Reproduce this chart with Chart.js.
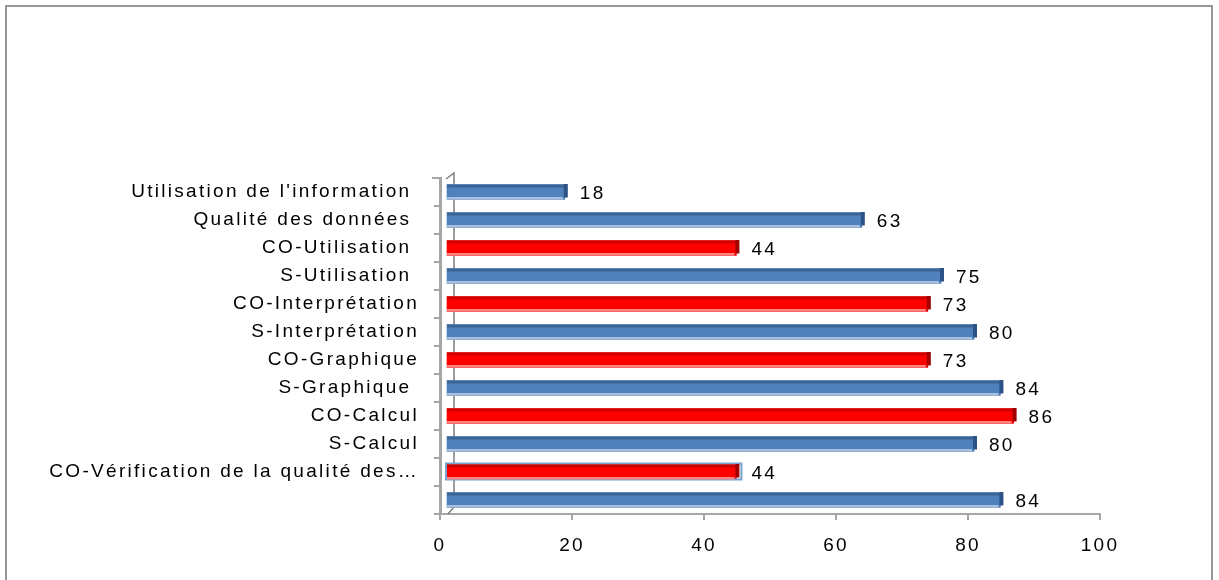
<!DOCTYPE html>
<html><head><meta charset="utf-8">
<style>html,body{margin:0;padding:0;background:#fff;overflow:hidden}#wrap{position:relative;width:1219px;height:580px}canvas{display:block}</style>
<script src="https://cdn.jsdelivr.net/npm/chart.js@4/dist/chart.umd.min.js"></script>
</head><body><div id="wrap"><canvas id="c" width="1219" height="580"></canvas></div>
<script>
// ---- data ----
const categories = ["Utilisation de l'information ", "Qualité des données ", "CO-Utilisation ", "S-Utilisation ", "CO-Interprétation", "S-Interprétation", "CO-Graphique", "S-Graphique ", "CO-Calcul", "S-Calcul", "CO-Vérification de la qualité des…", ""];
const values = [18, 63, 44, 75, 73, 80, 73, 84, 86, 80, 44, 84];
const seriesGroup = ["S", "S", "CO", "S", "CO", "S", "CO", "S", "CO", "S", "CO", "S"];
const xTickValues = [0, 20, 40, 60, 80, 100];

// ---- styles ----
const FONT = "'Liberation Sans', Arial, sans-serif";
const FS = 19;
const LS = '2.3px';
const palette = {
  S:  {main:'#4F81BD', top:'#3B6597', bottom:'#A7C0DF', cap:'#2C5286'},
  CO: {main:'#FF0000', top:'#CC0000', bottom:'#FF8585', cap:'#A00000'}
};
const outlined = 10; // bar drawn with a light-blue 3D outline in the reference
const DX = 6; // 3D depth shift

function setLS(c){ try { c.ctx.letterSpacing = LS; } catch(e){} }

const plugin3d = {
  id: 'threeD',
  beforeUpdate(c){ setLS(c); },
  beforeLayout(c){ setLS(c); },
  beforeDraw(c){
    setLS(c);
    const ctx = c.ctx;
    ctx.save();
    ctx.strokeStyle = '#969696'; ctx.lineWidth = 2;
    ctx.beginPath(); ctx.moveTo(6, 600); ctx.lineTo(6, 6); ctx.lineTo(1212, 6); ctx.lineTo(1212, 600); ctx.stroke();
    ctx.restore();
  },
  beforeDatasetsDraw(c){
    setLS(c);
    const ctx = c.ctx, a = c.chartArea;
    ctx.save();
    ctx.strokeStyle = '#7F7F7F'; ctx.lineWidth = 1.5;
    ctx.beginPath();
    ctx.moveTo(a.left + 6, a.top + 1); ctx.lineTo(a.left + 14, a.top - 5);
    ctx.lineTo(a.left + 14, a.bottom - 7); ctx.lineTo(a.left + 8, a.bottom);
    ctx.stroke();
    ctx.strokeStyle = '#A6A6A6'; ctx.lineWidth = 2;
    ctx.beginPath(); ctx.moveTo(a.left - 8, a.top); ctx.lineTo(a.left, a.top); ctx.stroke();
    ctx.restore();
    ctx.save();
    ctx.translate(DX, 0);
  },
  afterDatasetsDraw(c){
    const ctx = c.ctx;
    const meta = c.getDatasetMeta(0);
    meta.data.forEach((el, i) => {
      const p = el.getProps(['x','y','base','height'], true);
      const pal = palette[seriesGroup[i]];
      const top = p.y - p.height/2, bot = p.y + p.height/2;
      const left = Math.min(p.base, p.x), right = Math.max(p.base, p.x);
      if (i === outlined) {
        ctx.strokeStyle = '#7BA0CD'; ctx.lineWidth = 2;
        ctx.strokeRect(left - 1, top - 1, right - left + 6, p.height + 1);
      }
      ctx.fillStyle = pal.top; ctx.fillRect(left, top, right - left, 3);
      ctx.fillStyle = pal.bottom; ctx.fillRect(left, bot - 2.5, right - left - 2, 2.5);
      ctx.fillStyle = pal.cap; ctx.fillRect(right - 1, top - 0.5, 4, p.height - 1.5);
    });
    ctx.restore();
    // value labels
    ctx.save();
    setLS(c);
    ctx.font = FS + 'px ' + FONT;
    ctx.fillStyle = '#000';
    ctx.textBaseline = 'middle';
    ctx.textAlign = 'left';
    meta.data.forEach((el, i) => {
      const p = el.getProps(['x','y'], true);
      ctx.fillText(String(values[i]), p.x + DX + 15, p.y + 2);
    });
    ctx.restore();
  }
};

new Chart(document.getElementById('c'), {
  type: 'bar',
  data: {
    labels: categories,
    datasets: [{
      data: values,
      backgroundColor: seriesGroup.map(g => palette[g].main),
      borderWidth: 0,
      barThickness: 15
    }]
  },
  options: {
    indexAxis: 'y',
    responsive: false,
    animation: false,
    events: [],
    layout: { padding: { top: 178, right: 119, bottom: 0, left: 0 } },
    plugins: { legend: { display: false }, tooltip: { enabled: false } },
    scales: {
      x: {
        min: xTickValues[0], max: xTickValues[xTickValues.length - 1],
        ticks: { stepSize: xTickValues[1] - xTickValues[0], color: '#000', font: { size: FS, family: FONT }, padding: 14, maxRotation: 0 },
        grid: { drawOnChartArea: false, color: '#A6A6A6', tickLength: 6, lineWidth: 2 },
        border: { color: '#A6A6A6', width: 2 },
        afterFit(s){ s.height = 66; }
      },
      y: {
        ticks: { color: '#000', font: { size: FS, family: FONT }, padding: 15, autoSkip: false },
        grid: { drawOnChartArea: false, color: '#A6A6A6', tickLength: 6, lineWidth: 2 },
        border: { color: '#A6A6A6', width: 3 },
        afterFit(s){ s.width = 440; }
      }
    }
  },
  plugins: [plugin3d]
});
</script>
</body></html>
